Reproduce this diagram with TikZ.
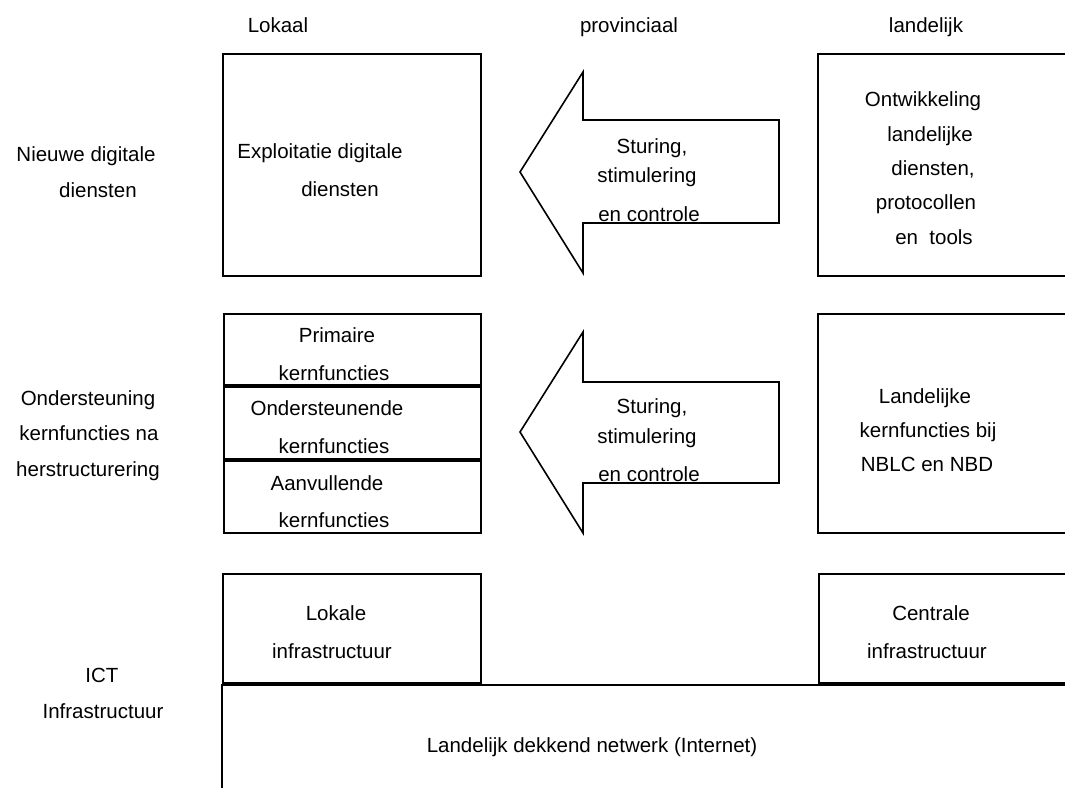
\documentclass[tikz,border=0pt]{standalone}
\usepackage{fontspec}
\setmainfont{Liberation Sans}
\begin{document}
\begin{tikzpicture}[x=1pt,y=-1pt,
  box/.style={draw=black, line width=1.6pt, inner sep=0pt, anchor=north west},
  shape line/.style={draw=black, line width=1.6pt, line join=miter},
  txt/.style={anchor=base, inner sep=0pt, font=\fontsize{20.5}{24}\selectfont}]
\useasboundingbox (0,0) rectangle (1065,787);
\clip (0,0) rectangle (1065,787);

% column headers
\node[txt] (hlok)  at (278,32) {Lokaal};
\node[txt] (hprov) at (629,32) {provinciaal};
\node[txt] (hland) at (926,32) {landelijk};

% row labels
\node[txt] (r1a) at (86,161) {Nieuwe digitale};
\node[txt] (r1b) at (98,197) {diensten};
\node[txt] (r2a) at (88,405) {Ondersteuning};
\node[txt] (r2b) at (89,440) {kernfuncties na};
\node[txt] (r2c) at (88,476) {herstructurering};
\node[txt] (r3a) at (102,682) {ICT};
\node[txt] (r3b) at (103,718) {Infrastructuur};

% top row
\node[box, minimum width=258pt, minimum height=222pt] (expl) at (222,53) {};
\node[txt] (expla) at (320,158) {Exploitatie digitale};
\node[txt] (explb) at (340,196) {diensten};

\node[box, minimum width=300pt, minimum height=222pt] (ontw) at (817,53) {};
\node[txt] (ontwa) at (923,106) {Ontwikkeling};
\node[txt] (ontwb) at (930,141) {landelijke};
\node[txt] (ontwc) at (933,175) {diensten,};
\node[txt] (ontwd) at (926,209) {protocollen};
\node[txt] (ontwe) at (934,244) {en\ \ tools};

\draw[shape line] (520,172) -- (583,72) -- (583,120) -- (779,120) -- (779,223)
  -- (583,223) -- (583,273) -- cycle;
\node[txt] (arr1a) at (652,153) {Sturing,};
\node[txt] (arr1b) at (647,182) {stimulering};
\node[txt] (arr1c) at (649,221) {en controle};

% middle row
\node[box, minimum width=257pt, minimum height=71pt] (prim) at (223,313) {};
\node[box, minimum width=257pt, minimum height=72pt] (onde) at (223,386) {};
\node[box, minimum width=257pt, minimum height=72pt] (aanv) at (223,460) {};
\node[txt] (prima) at (337,342) {Primaire};
\node[txt] (primb) at (334,380) {kernfuncties};
\node[txt] (ondea) at (327,415) {Ondersteunende};
\node[txt] (ondeb) at (334,453) {kernfuncties};
\node[txt] (aanva) at (327,490) {Aanvullende};
\node[txt] (aanvb) at (334,527) {kernfuncties};

\node[box, minimum width=300pt, minimum height=219pt] (land) at (817,313) {};
\node[txt] (landa) at (925,403) {Landelijke};
\node[txt] (landb) at (928,437) {kernfuncties bij};
\node[txt] (landc) at (927,471) {NBLC en NBD};

\draw[shape line] (520,432) -- (583,332) -- (583,382) -- (779,382) -- (779,483)
  -- (583,483) -- (583,533) -- cycle;
\node[txt] (arr2a) at (652,413) {Sturing,};
\node[txt] (arr2b) at (647,443) {stimulering};
\node[txt] (arr2c) at (649,481) {en controle};

% bottom row
\node[box, minimum width=258pt, minimum height=109pt] (lokinf) at (222,573) {};
\node[txt] (lokinfa) at (336,620) {Lokale};
\node[txt] (lokinfb) at (332,658) {infrastructuur};
\node[box, minimum width=300pt, minimum height=109pt] (cenin) at (818,573) {};
\node[txt] (cenina) at (931,620) {Centrale};
\node[txt] (ceninb) at (927,658) {infrastructuur};
\node[box, minimum width=900pt, minimum height=200pt] (net) at (221,684) {};
\node[txt] (neta) at (592,752) {Landelijk dekkend netwerk (Internet)};
\end{tikzpicture}
\end{document}
